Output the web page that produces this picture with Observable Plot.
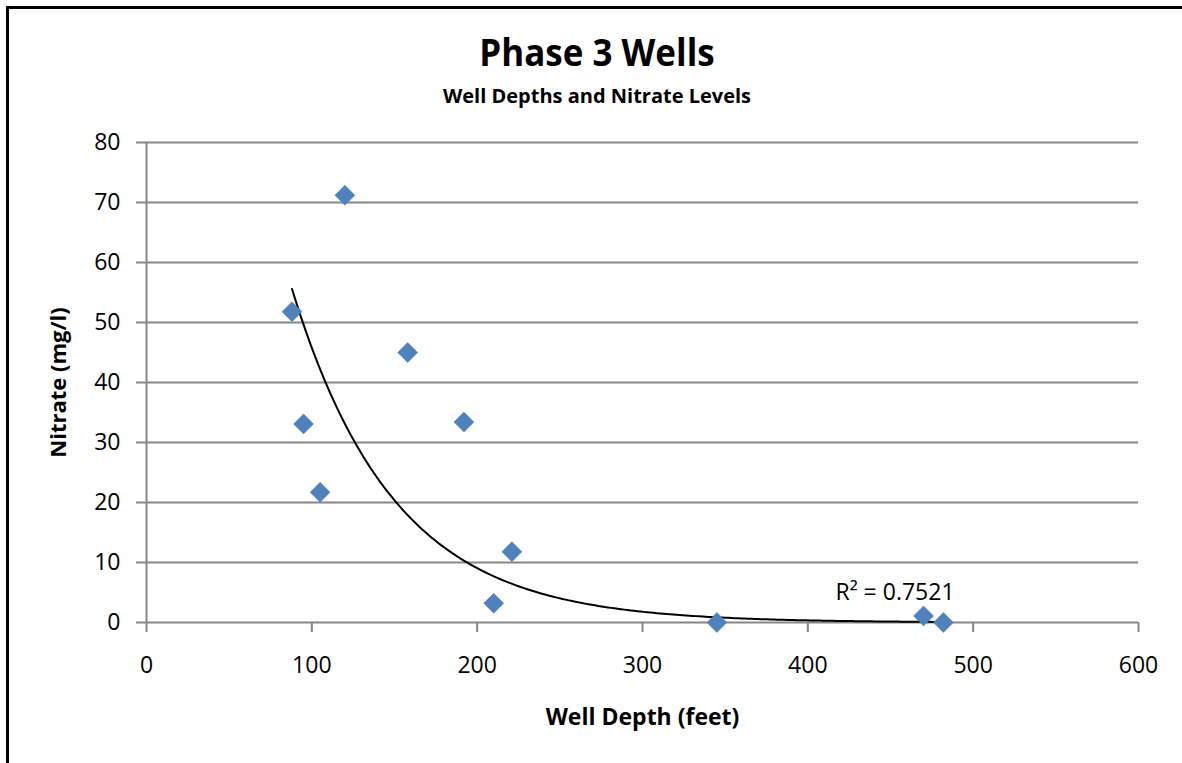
<!DOCTYPE html>
<html>
<head>
<meta charset="utf-8">
<script src="https://cdn.jsdelivr.net/npm/d3@7"></script>
<script src="https://cdn.jsdelivr.net/npm/@observablehq/plot@0.6"></script>
<style>
  html, body { margin: 0; padding: 0; background: #fff; overflow: hidden; width: 1182px; height: 763px; }
  #wrap { position: relative; width: 1182px; height: 763px; overflow: hidden; font-family: "Open Sans", sans-serif; }
  #border { position: absolute; left: 6px; top: 6px; width: 1176px; height: 757px; border-top: 3px solid #000; border-left: 3px solid #000; box-sizing: border-box; }
  #header { position: relative; height: 110px; }
  #title { position: absolute; left: 0; width: 1182px; top: 32px; text-align: center; font-weight: 700; font-size: 38px; line-height: 1; color: #000; transform: scaleX(0.92); transform-origin: 597px 0; padding-left: 12px; box-sizing: border-box; }
  #subtitle { position: absolute; left: 0; width: 1182px; top: 86px; text-align: center; font-weight: 700; font-size: 20px; line-height: 1; color: #000; padding-left: 12px; box-sizing: border-box; }
  svg { display: block; }
</style>
</head>
<body>
<div id="wrap">
  <div id="border"></div>
  <div id="header">
    <div id="title">Phase 3 Wells</div>
    <div id="subtitle">Well Depths and Nitrate Levels</div>
  </div>
  <div id="chart"></div>
</div>
<script>
// Data
const wellDepth = [88, 95, 105, 120, 158, 192, 210, 221, 345, 470, 482];
const nitrate   = [51.8, 33.1, 21.7, 71.2, 45.0, 33.4, 3.2, 11.8, 0.0, 1.1, 0.0];
const xTicks = [0, 100, 200, 300, 400, 500, 600];
const yTicks = [0, 10, 20, 30, 40, 50, 60, 70, 80];
// Exponential trendline y = a * e^(b x), coefficients
const trendA = 231.3;
const trendB = -0.0162;
const rSquaredLabel = "R² = 0.7521";
const xLabel = "Well Depth (feet)";
const yLabel = "Nitrate (mg/l)";

const points = wellDepth.map((d, i) => ({depth: d, nitrate: nitrate[i]}));
const xMin = d3.min(wellDepth), xMax = d3.max(wellDepth);
const trend = d3.range(0, 201).map(i => {
  const x = xMin + (xMax - xMin) * i / 200;
  return {depth: x, nitrate: trendA * Math.exp(trendB * x)};
});

const grid = "#868686";
const chart = Plot.plot({
  width: 1182,
  height: 653,
  marginLeft: 146,
  marginRight: 44,
  marginTop: 32,
  marginBottom: 141,
  style: {fontFamily: "'Open Sans', sans-serif", fontSize: "23px", color: "#000", background: "transparent", overflow: "visible"},
  x: {domain: [0, 600]},
  y: {domain: [0, 80]},
  marks: [
    Plot.gridY(yTicks, {stroke: grid, strokeOpacity: 1, strokeWidth: 2}),
    Plot.ruleX([0], {stroke: grid, strokeWidth: 2}),
    Plot.axisY(yTicks, {tickSize: 10, tickPadding: 16, stroke: grid, strokeWidth: 2, fill: "#000", label: null, fontSize: 23}),
    Plot.axisX(xTicks, {tickSize: 10, tickPadding: 24, stroke: grid, strokeWidth: 2, fill: "#000", label: null, fontSize: 23}),
    Plot.line(trend, {x: "depth", y: "nitrate", stroke: "#000", strokeWidth: 2, curve: "linear"}),
    Plot.dot(points, {x: "depth", y: "nitrate", symbol: "diamond2", r: 9, fill: "#4f81bd", stroke: "#4a7ebb", strokeWidth: 0.5}),
    Plot.text([rSquaredLabel], {x: 416.7, y: 5, text: d => d, textAnchor: "start", fontSize: 23, fill: "#000"}),
    Plot.text([xLabel], {frameAnchor: "bottom", dy: 102, text: d => d, fontWeight: "bold", fontSize: 23, fill: "#000"}),
    Plot.text([yLabel], {frameAnchor: "left", textAnchor: "middle", dx: -88, rotate: -90, text: d => d, fontWeight: "bold", fontSize: 22, fill: "#000"})
  ]
});
document.getElementById("chart").appendChild(chart);
</script>
</body>
</html>
